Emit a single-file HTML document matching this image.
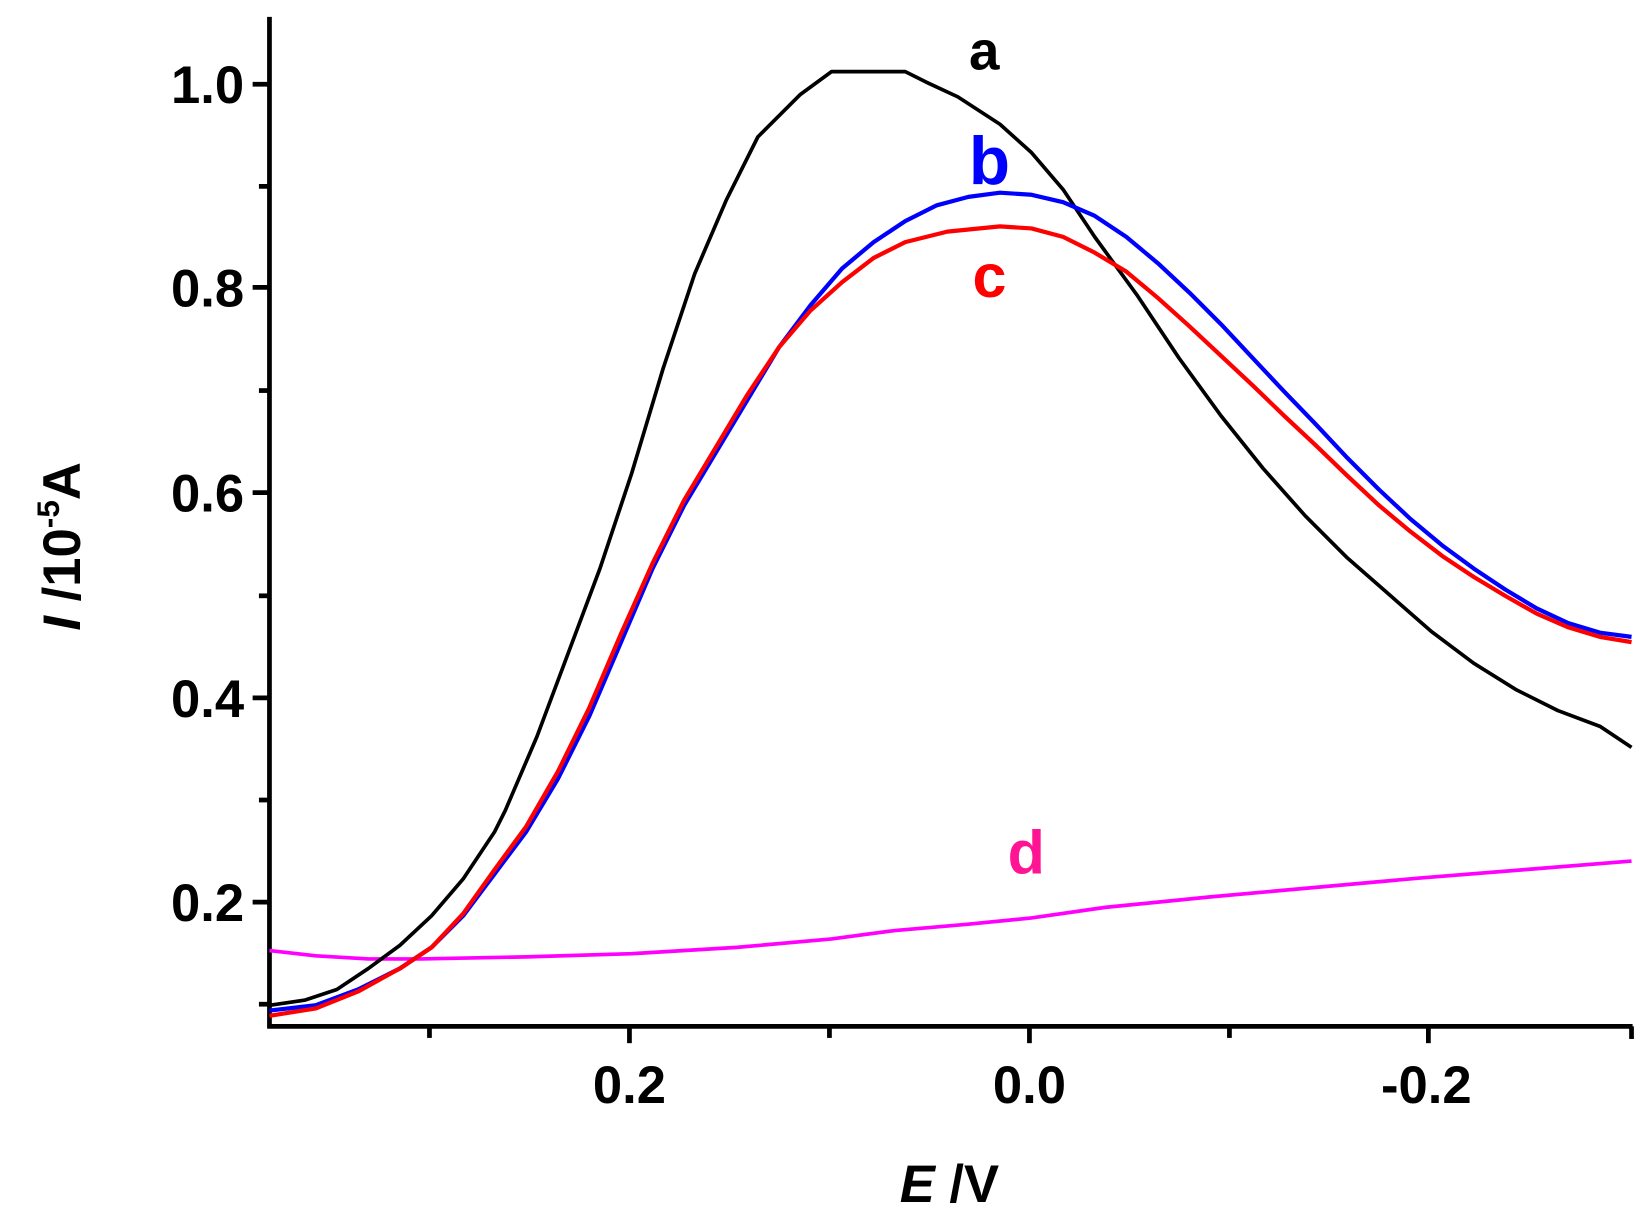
<!DOCTYPE html>
<html><head><style>html,body{margin:0;padding:0;background:#fff}svg{display:block}</style></head>
<body>
<svg width="1649" height="1219" viewBox="0 0 1566.6 1158" xmlns="http://www.w3.org/2000/svg" font-family="Liberation Sans, Arial, sans-serif" font-weight="bold">
<g stroke="#000" stroke-width="4.5" fill="none">
<line x1="256" y1="16" x2="256" y2="977"/>
<line x1="254" y1="975" x2="1551" y2="975"/>
<line x1="1550" y1="975" x2="1550" y2="987"/>
<line x1="240" y1="80" x2="256" y2="80"/>
<line x1="246" y1="177" x2="256" y2="177"/>
<line x1="240" y1="273" x2="256" y2="273"/>
<line x1="246" y1="371" x2="256" y2="371"/>
<line x1="240" y1="468" x2="256" y2="468"/>
<line x1="246" y1="566" x2="256" y2="566"/>
<line x1="240" y1="663" x2="256" y2="663"/>
<line x1="246" y1="760" x2="256" y2="760"/>
<line x1="240" y1="857" x2="256" y2="857"/>
<line x1="246" y1="954" x2="256" y2="954"/>
<line x1="408" y1="975" x2="408" y2="986"/>
<line x1="598" y1="975" x2="598" y2="991"/>
<line x1="788" y1="975" x2="788" y2="986"/>
<line x1="978" y1="975" x2="978" y2="991"/>
<line x1="1168" y1="975" x2="1168" y2="986"/>
<line x1="1357" y1="975" x2="1357" y2="991"/>
</g>
<g font-size="50" text-anchor="end" fill="#000">
<text x="232" y="98">1.0</text>
<text x="232" y="291">0.8</text>
<text x="232" y="486">0.6</text>
<text x="232" y="681">0.4</text>
<text x="232" y="875">0.2</text>
</g>
<g font-size="50" text-anchor="middle" fill="#000">
<text x="598" y="1048">0.2</text>
<text x="978" y="1048">0.0</text>
<text x="1355" y="1048">-0.2</text>
<text x="902" y="1142"><tspan font-style="italic">E</tspan> /V</text>
</g>
<text transform="translate(76,519) rotate(-90)" font-size="50" text-anchor="middle" fill="#000"><tspan font-style="italic">I</tspan> /10<tspan dy="-20" font-size="30">-5</tspan><tspan dy="20">A</tspan></text>
<g fill="none" stroke-width="3.5" stroke-linejoin="round">
<polyline stroke="#ff00ff" points="256,903 300,908 350,911 400,911 500,909 600,906 700,900 790,892 850,884 920,878 980,872 1050,862 1150,852 1250,843 1350,834 1450,826 1550,818"/>
<polyline stroke="#000" points="256,955 290,950 320,940 350,920 380,898 410,870 440,835 470,790 480,770 510,700 540,620 570,540 600,450 630,350 660,260 690,190 720,130 760,90 790,68 860,68 880,78 910,92 950,118 980,145 1010,180 1040,225 1080,280 1120,340 1160,395 1200,445 1240,490 1280,530 1320,565 1360,600 1400,630 1440,655 1480,675 1520,690 1550,710"/>
<polyline stroke="#0000ff" stroke-width="4" points="256,960 300,955 340,940 380,920 410,900 440,870 470,830 500,790 530,740 560,680 590,610 620,540 650,480 680,430 710,380 740,330 770,290 800,255 830,230 860,210 890,195 920,187 950,183 980,185 1010,192 1040,205 1070,225 1100,250 1130,278 1160,308 1190,340 1220,372 1250,403 1280,435 1310,465 1340,493 1370,518 1400,540 1430,560 1460,578 1490,592 1520,601 1550,605"/>
<polyline stroke="#ff0000" stroke-width="4" points="256,965 300,958 340,942 380,920 410,900 440,868 470,826 500,785 530,733 560,672 590,602 620,535 650,475 680,425 710,375 740,330 770,295 800,268 830,245 860,230 900,220 950,215 980,217 1010,225 1040,240 1070,258 1100,283 1130,310 1160,338 1190,366 1220,395 1250,423 1280,452 1310,480 1340,505 1370,528 1400,548 1430,566 1460,583 1490,596 1520,605 1550,610"/>
</g>
<text x="935" y="66" font-size="52" text-anchor="middle" fill="#000">a</text>
<text x="940" y="175" font-size="64" text-anchor="middle" fill="#0000ff">b</text>
<text x="940" y="282" font-size="58" text-anchor="middle" fill="#ff0000">c</text>
<text x="975" y="830" font-size="58" text-anchor="middle" fill="#ff1493">d</text>
</svg>
</body></html>
